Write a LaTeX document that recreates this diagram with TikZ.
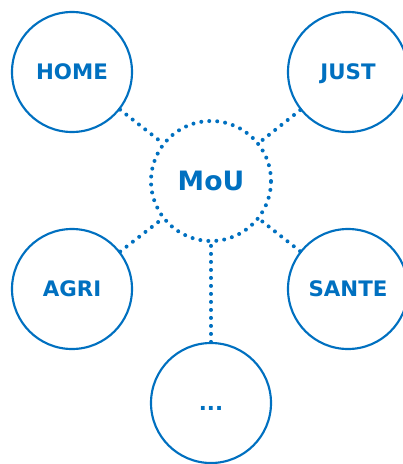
\documentclass[tikz,border=0pt]{standalone}
\usepackage{fontspec}
\setmainfont{DejaVu Sans}
\usepackage{tikz}
\usetikzlibrary{positioning, calc}
\definecolor{moublue}{RGB}{0,112,192}

\begin{document}
\begin{tikzpicture}[x=0.75pt, y=-0.75pt,
    topic/.style={circle, draw=moublue, line width=1.6pt, minimum size=90pt, inner sep=0pt, text=moublue, text height=11.6pt, text depth=0pt, font=\bfseries\fontsize{16}{19}\selectfont},
    hub/.style={circle, draw=moublue, line width=3pt, dash pattern=on 0pt off 6pt, line cap=round, minimum size=90pt, inner sep=0pt, text=moublue, text height=14.6pt, text depth=0pt, font=\bfseries\fontsize{20}{24}\selectfont},
    link/.style={draw=moublue, line width=3pt, dash pattern=on 0pt off 6pt, line cap=round}]
    \useasboundingbox (0,0) rectangle (403,464);

    \node[hub] (mou) at (211,181) {MoU};
    \node[topic] (home) at (72,72) {HOME};
    \node[topic] (just) at (348,72) {JUST};
    \node[topic] (agri) at (72,289) {AGRI};
    \node[topic] (sante) at (348,289) {SANTE};
    \node[topic] (more) at (211,403) {...};

    % links to the MoU
    \draw[link] (home) -- (mou);
    \draw[link] (just) -- (mou);
    \draw[link] (agri) -- (mou);
    \draw[link] (sante) -- (mou);
    \draw[link] (more) -- (mou);
\end{tikzpicture}
\end{document}
